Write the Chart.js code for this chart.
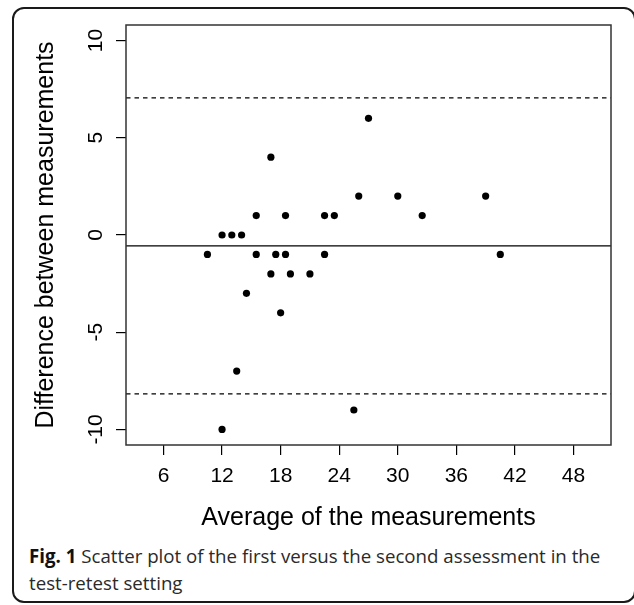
<!DOCTYPE html>
<html>
<head>
<meta charset="utf-8">
<script src="https://cdn.jsdelivr.net/npm/chart.js@4.4.1/dist/chart.umd.min.js"></script>
<style>
  html, body { margin: 0; padding: 0; background: #fff; }
  body { width: 634px; height: 605px; position: relative; overflow: hidden; }
  #frame {
    position: absolute; left: 12px; top: 7px; width: 624px; height: 596px;
    box-sizing: border-box; border: 2px solid #1a1a1a; border-radius: 12px;
  }
  #plot { position: absolute; left: 0; top: 0; }
  #caption {
    position: absolute; left: 29px; top: 543px; width: 600px;
    font-family: 'Open Sans', 'Noto Sans', sans-serif; font-size: 18.7px;
    line-height: 26.5px; color: #2a2a2a; white-space: nowrap;
  }
  #caption b { font-weight: 700; color: #111; }
</style>
</head>
<body>
<div id="frame"></div>
<canvas id="plot" width="634" height="533"></canvas>
<div id="caption"><b>Fig. 1</b> Scatter plot of the first versus the second assessment in the<br>test-retest setting</div>
<script>
(function () {
  'use strict';

  // Bland-Altman values
  const avgValues  = [10.5, 12, 13, 14, 15.5, 18.5, 22.5, 23.5, 32.5, 26, 30, 39, 17, 27,
                      15.5, 17.5, 18.5, 22.5, 40.5, 17, 19, 21, 14.5, 18, 13.5, 12, 25.5];
  const diffValues = [-1, 0, 0, 0, 1, 1, 1, 1, 1, 2, 2, 2, 4, 6,
                      -1, -1, -1, -1, -1, -2, -2, -2, -3, -4, -7, -10, -9];

  const meanDiff   = -0.56;
  const upperLimit = 7.05;
  const lowerLimit = -8.17;

  const xTicks = [6, 12, 18, 24, 30, 36, 42, 48];
  const yTicks = [-10, -5, 0, 5, 10];
  const xRange = [2.16, 51.84];
  const yRange = [-10.8, 10.8];

  const FONT = "'Liberation Sans', Arial, sans-serif";

  const points = avgValues.map(function (x, i) { return { x: x, y: diffValues[i] }; });
  function hline(v) { return [{ x: xRange[0], y: v }, { x: xRange[1], y: v }]; }

  // plot box + rotated y tick labels (R style)
  const rPlotBox = {
    id: 'rPlotBox',
    afterDraw: function (chart) {
      const ctx = chart.ctx, a = chart.chartArea, ys = chart.scales.y;
      ctx.save();
      ctx.strokeStyle = '#333';
      ctx.lineWidth = 1.5;
      ctx.strokeRect(a.left, a.top, a.right - a.left, a.bottom - a.top);
      ctx.fillStyle = '#000';
      ctx.font = '21px ' + FONT;
      ctx.textAlign = 'center';
      ctx.textBaseline = 'alphabetic';
      ys.ticks.forEach(function (t) {
        ctx.save();
        ctx.translate(a.left - 24.5, ys.getPixelForValue(t.value));
        ctx.rotate(-Math.PI / 2);
        ctx.fillText(String(t.value), 0, 0);
        ctx.restore();
      });
      ctx.restore();
    }
  };

  new Chart(document.getElementById('plot'), {
    type: 'scatter',
    data: {
      datasets: [
        { data: points, backgroundColor: '#000', borderWidth: 0, pointRadius: 3.6, pointHoverRadius: 3.6 },
        { type: 'line', data: hline(meanDiff), borderColor: '#000', borderWidth: 1.3, pointRadius: 0, fill: false },
        { type: 'line', data: hline(upperLimit), borderColor: '#000', borderWidth: 1.3, borderDash: [4.5, 4], pointRadius: 0, fill: false },
        { type: 'line', data: hline(lowerLimit), borderColor: '#000', borderWidth: 1.3, borderDash: [4.5, 4], pointRadius: 0, fill: false }
      ]
    },
    options: {
      responsive: false,
      animation: false,
      layout: { padding: { top: 25, right: 23, left: 0, bottom: 0 } },
      plugins: { legend: { display: false }, tooltip: { enabled: false } },
      scales: {
        x: {
          type: 'linear', min: xRange[0], max: xRange[1],
          afterBuildTicks: function (s) { s.ticks = xTicks.map(function (v) { return { value: v }; }); },
          afterFit: function (s) { s.height = 88; },
          border: { display: false },
          grid: { drawOnChartArea: false, drawTicks: true, tickLength: 10, color: '#000', lineWidth: 1.2 },
          ticks: { color: '#000', padding: 9, maxRotation: 0, font: { family: FONT, size: 21 } },
          title: { display: true, text: 'Average of the measurements', color: '#000',
                   font: { family: FONT, size: 25 }, padding: { top: 0, bottom: 0 } }
        },
        y: {
          type: 'linear', min: yRange[0], max: yRange[1],
          afterBuildTicks: function (s) { s.ticks = yTicks.map(function (v) { return { value: v }; }); },
          afterFit: function (s) { s.width = 126; },
          border: { display: false },
          grid: { drawOnChartArea: false, drawTicks: true, tickLength: 10, color: '#000', lineWidth: 1.2 },
          ticks: { display: false },
          title: { display: true, text: 'Difference between measurements', color: '#000',
                   font: { family: FONT, size: 25 }, padding: { top: 31, bottom: 0 } }
        }
      }
    },
    plugins: [rPlotBox]
  });
}());
</script>
</body>
</html>
